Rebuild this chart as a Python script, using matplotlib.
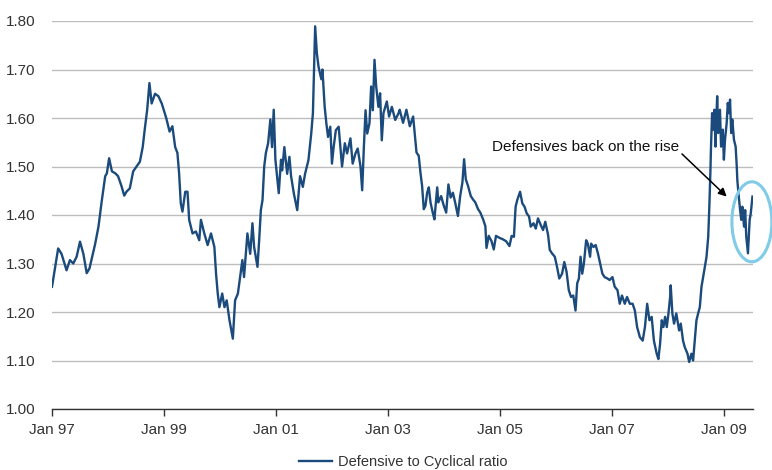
import matplotlib
matplotlib.use('Agg')
import matplotlib.pyplot as plt
import matplotlib.patches as patches

# decimal year of each reading, and the defensive/cyclical ratio
years = [
    1997.00, 1997.11, 1997.17, 1997.26, 1997.32, 1997.38, 1997.44, 1997.50, 1997.56, 1997.62,
    1997.67, 1997.71, 1997.77, 1997.83, 1997.89, 1997.95, 1997.98, 1998.02, 1998.07, 1998.13,
    1998.18, 1998.24, 1998.29, 1998.33, 1998.39, 1998.45, 1998.51, 1998.57, 1998.62, 1998.66,
    1998.70, 1998.74, 1998.78, 1998.84, 1998.90, 1998.96,
    1999.04, 1999.10, 1999.15, 1999.20, 1999.24, 1999.27, 1999.30, 1999.33, 1999.38, 1999.42,
    1999.45, 1999.51, 1999.57, 1999.63, 1999.66, 1999.72, 1999.78, 1999.84, 1999.90, 1999.93,
    1999.96, 1999.99, 2000.04, 2000.08, 2000.12, 2000.17, 2000.23, 2000.27, 2000.32, 2000.36,
    2000.40, 2000.43, 2000.49, 2000.54, 2000.58, 2000.61, 2000.67, 2000.70, 2000.73, 2000.76,
    2000.79, 2000.82, 2000.86, 2000.90, 2000.93, 2000.96, 2000.99, 2001.02, 2001.05, 2001.09,
    2001.11, 2001.15, 2001.20, 2001.24, 2001.27, 2001.32, 2001.38, 2001.43, 2001.48, 2001.52,
    2001.58, 2001.63, 2001.66, 2001.68, 2001.70, 2001.73, 2001.76, 2001.81, 2001.83, 2001.87,
    2001.90, 2001.93, 2001.97, 2002.00, 2002.03, 2002.07, 2002.12, 2002.15, 2002.18, 2002.23,
    2002.27, 2002.33, 2002.37, 2002.42, 2002.46, 2002.51, 2002.54, 2002.57, 2002.60, 2002.63,
    2002.67, 2002.70, 2002.73, 2002.76, 2002.79, 2002.83, 2002.86, 2002.89, 2002.92, 2002.98,
    2003.02, 2003.07, 2003.13, 2003.19, 2003.21, 2003.27, 2003.33, 2003.39, 2003.45, 2003.51,
    2003.55, 2003.58, 2003.61, 2003.64, 2003.67, 2003.70, 2003.73, 2003.76, 2003.80, 2003.83,
    2003.88, 2003.90, 2003.95, 2003.99, 2004.04, 2004.08, 2004.12, 2004.16, 2004.20, 2004.25,
    2004.29, 2004.33, 2004.36, 2004.39, 2004.43, 2004.48, 2004.52, 2004.56, 2004.61, 2004.65,
    2004.70, 2004.74, 2004.76, 2004.80, 2004.85, 2004.89, 2004.93, 2004.99, 2005.05, 2005.11,
    2005.17, 2005.21, 2005.25, 2005.28, 2005.31, 2005.36, 2005.40, 2005.44, 2005.48, 2005.52,
    2005.55, 2005.60, 2005.64, 2005.68, 2005.73, 2005.77, 2005.81, 2005.86, 2005.89, 2005.93,
    2005.98, 2006.02, 2006.06, 2006.11, 2006.15, 2006.19, 2006.23, 2006.27, 2006.31, 2006.35,
    2006.38, 2006.41, 2006.44, 2006.47, 2006.50, 2006.54, 2006.57, 2006.61, 2006.63, 2006.67,
    2006.71, 2006.75, 2006.79, 2006.83, 2006.87, 2006.92, 2006.96, 2007.01, 2007.05, 2007.10,
    2007.14, 2007.18, 2007.23, 2007.27, 2007.32, 2007.37, 2007.41, 2007.45, 2007.50, 2007.55,
    2007.59, 2007.63, 2007.67, 2007.71, 2007.75, 2007.80, 2007.83, 2007.86, 2007.89, 2007.92,
    2007.95, 2007.98, 2008.01, 2008.04, 2008.05, 2008.08, 2008.11, 2008.15, 2008.20, 2008.23,
    2008.27, 2008.30, 2008.35, 2008.38, 2008.42, 2008.45, 2008.48, 2008.51, 2008.54, 2008.57,
    2008.60, 2008.63, 2008.66, 2008.69, 2008.72, 2008.74, 2008.76, 2008.77, 2008.79, 2008.81,
    2008.83, 2008.85, 2008.88, 2008.90, 2008.93, 2008.95, 2008.98, 2009.00, 2009.02, 2009.05,
    2009.07, 2009.09, 2009.11, 2009.13, 2009.15, 2009.18, 2009.21, 2009.23, 2009.24, 2009.26,
    2009.29, 2009.31, 2009.33, 2009.36, 2009.38, 2009.40, 2009.43, 2009.46, 2009.48, 2009.51,
]
ratio = [
    1.252, 1.331, 1.320, 1.286, 1.307, 1.300, 1.314, 1.345, 1.320, 1.280,
    1.290, 1.310, 1.340, 1.376, 1.430, 1.480, 1.486, 1.517, 1.490, 1.486,
    1.480, 1.460, 1.440, 1.448, 1.455, 1.490, 1.500, 1.510, 1.540, 1.580,
    1.617, 1.672, 1.630, 1.650, 1.645, 1.630,
    1.600, 1.572, 1.583, 1.540, 1.528, 1.486, 1.424, 1.407, 1.448, 1.448,
    1.390, 1.362, 1.366, 1.348, 1.390, 1.362, 1.338, 1.362, 1.334, 1.279,
    1.238, 1.210, 1.238, 1.210, 1.224, 1.183, 1.145, 1.224, 1.238, 1.272,
    1.307, 1.272, 1.362, 1.320, 1.383, 1.334, 1.293, 1.348, 1.410, 1.431,
    1.500, 1.528, 1.548, 1.597, 1.540, 1.617, 1.514, 1.480, 1.445, 1.514,
    1.492, 1.540, 1.485, 1.520, 1.480, 1.444, 1.410, 1.480, 1.458, 1.485,
    1.513, 1.568, 1.610, 1.700, 1.789, 1.734, 1.706, 1.680, 1.700, 1.623,
    1.589, 1.561, 1.582, 1.506, 1.540, 1.575, 1.582, 1.540, 1.500, 1.548,
    1.527, 1.558, 1.506, 1.527, 1.537, 1.500, 1.451, 1.540, 1.616, 1.568,
    1.589, 1.665, 1.616, 1.720, 1.665, 1.623, 1.651, 1.554, 1.610, 1.634,
    1.603, 1.623, 1.596, 1.610, 1.617, 1.590, 1.617, 1.583, 1.603, 1.529,
    1.522, 1.488, 1.460, 1.412, 1.419, 1.446, 1.457, 1.426, 1.405, 1.391,
    1.457, 1.426, 1.439, 1.422, 1.405, 1.463, 1.436, 1.446, 1.426, 1.398,
    1.439, 1.467, 1.515, 1.474, 1.460, 1.439, 1.432, 1.426, 1.412, 1.405,
    1.391, 1.377, 1.332, 1.357, 1.346, 1.329, 1.357, 1.353, 1.350, 1.346,
    1.336, 1.357, 1.355, 1.417, 1.431, 1.448, 1.424, 1.417, 1.403, 1.397,
    1.376, 1.383, 1.372, 1.393, 1.379, 1.369, 1.386, 1.359, 1.328, 1.321,
    1.314, 1.293, 1.269, 1.279, 1.303, 1.283, 1.245, 1.231, 1.234, 1.203,
    1.259, 1.269, 1.314, 1.279, 1.300, 1.348, 1.341, 1.314, 1.341, 1.334,
    1.338, 1.321, 1.300, 1.279, 1.272, 1.269, 1.266, 1.272, 1.252, 1.245,
    1.217, 1.234, 1.217, 1.231, 1.217, 1.217, 1.203, 1.169, 1.148, 1.141,
    1.169, 1.217, 1.183, 1.190, 1.141, 1.114, 1.103, 1.134, 1.183, 1.169,
    1.190, 1.169, 1.197, 1.231, 1.255, 1.197, 1.176, 1.197, 1.162, 1.176,
    1.141, 1.128, 1.114, 1.097, 1.114, 1.100, 1.141, 1.183, 1.197, 1.210,
    1.252, 1.272, 1.293, 1.314, 1.355, 1.417, 1.493, 1.541, 1.610, 1.576,
    1.617, 1.541, 1.645, 1.569, 1.617, 1.541, 1.576, 1.514, 1.555, 1.590,
    1.631, 1.610, 1.638, 1.569, 1.597, 1.555, 1.541, 1.500, 1.472, 1.445,
    1.410, 1.390, 1.417, 1.376, 1.410, 1.355, 1.321, 1.390, 1.403, 1.438,
]

tick_years = [1997, 1999, 2001, 2003, 2005, 2007, 2009]
tick_labels = ['Jan 97', 'Jan 99', 'Jan 01', 'Jan 03', 'Jan 05', 'Jan 07', 'Jan 09']
y_ticks = [1.00, 1.10, 1.20, 1.30, 1.40, 1.50, 1.60, 1.70, 1.80]

plt.rcParams['font.family'] = ['Liberation Sans', 'DejaVu Sans']

fig = plt.figure(figsize=(7.72, 4.70), dpi=100)
ax = fig.add_axes([52 / 772, 1 - 409 / 470, 701 / 772, 388 / 470])

ax.plot(years, ratio, color='#1b4a7c', lw=1.7, label='Defensive to Cyclical ratio',
        solid_joinstyle='round', zorder=3)

ax.set_xlim(1997.0, 2009.52)
ax.set_ylim(1.00, 1.80)
ax.set_yticks(y_ticks)
ax.set_yticklabels([f'{v:.2f}' for v in y_ticks])
ax.set_xticks(tick_years)
ax.set_xticklabels(tick_labels)

ax.grid(axis='y', color='#bdbdbd', lw=1)
ax.set_axisbelow(True)
for side in ['top', 'right', 'left']:
    ax.spines[side].set_visible(False)
ax.spines['bottom'].set_color('#333333')
ax.spines['bottom'].set_linewidth(1)
ax.tick_params(axis='y', length=0, pad=12, labelsize=11, labelcolor='#333333')
ax.tick_params(axis='x', length=5, width=1, color='#333333', pad=5,
               labelsize=11, labelcolor='#333333')

ax.annotate('Defensives back on the rise', xy=(2009.05, 1.438), xytext=(2004.86, 1.54),
            ha='left', va='center', fontsize=11, color='#111111',
            arrowprops=dict(arrowstyle='-|>', color='black', lw=1.1, shrinkA=0, shrinkB=0,
                            relpos=(1.0, 0.2), mutation_scale=12))

ax.add_patch(patches.Ellipse((2009.50, 1.386), 0.714, 0.165, fill=False,
                             edgecolor='#7fcbe8', lw=2.2, clip_on=False, zorder=4))

fig.legend(loc='center', bbox_to_anchor=(0.522, 0.017), frameon=False, fontsize=10.5,
           handlelength=2.3, handletextpad=0.4, labelcolor='#333333')

fig.savefig('out.png', dpi=100)
